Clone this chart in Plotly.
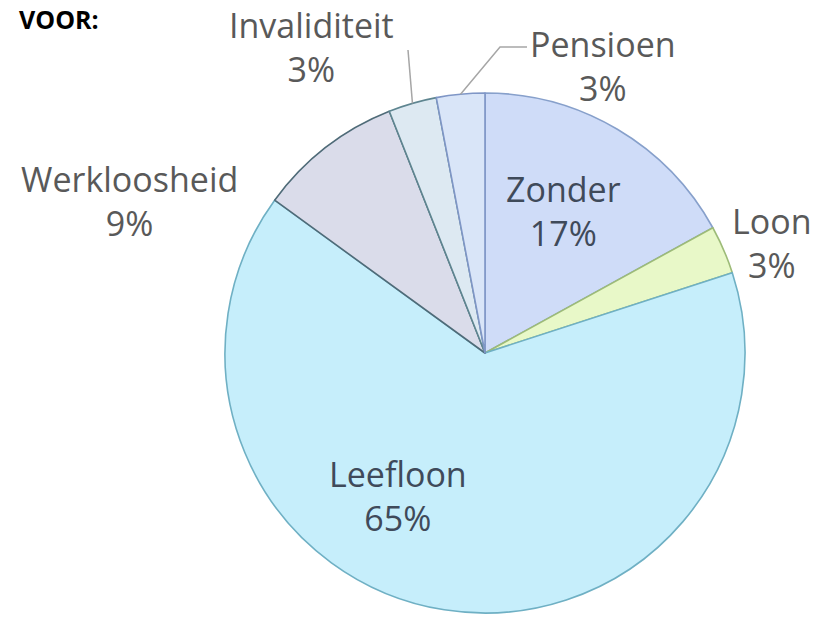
import math
import plotly.graph_objects as go

# ---- data ----
categories = ["Zonder", "Loon", "Leefloon", "Werkloosheid", "Invaliditeit", "Pensioen"]
values = [17, 3, 65, 9, 3, 3]
title_text = "VOOR:"

# ---- styles ----
fill_colors = ["#cfdcf8", "#e8f8c8", "#c6eefb", "#dadcea", "#dde9f2", "#d9e5f8"]
line_colors = ["#87a0cb", "#9dbb78", "#6fb0c4", "#4f6b78", "#5e8590", "#7f96c6"]

W, H = 814, 621
CX, CY, R = 485, 353, 260  # pie centre/radius in pixels

# label block centres (pixels) and styles
label_pos = {
    "Zonder": (563, 211),
    "Loon": (772, 243),
    "Leefloon": (398, 496),
    "Werkloosheid": (129, 201),
    "Invaliditeit": (311, 47),
    "Pensioen": (603, 66),
}
inside = {"Zonder", "Leefloon"}
leader_start = {
    "Invaliditeit": [(408, 50)],
    "Pensioen": [(527, 47), (500, 47)],
}


def px(x):
    return x / W


def py(y):
    return 1 - y / H


fig = go.Figure(
    go.Pie(
        labels=categories,
        values=values,
        sort=False,
        direction="clockwise",
        rotation=0,
        textinfo="none",
        hoverinfo="skip",
        marker=dict(colors=fill_colors, line=dict(color=line_colors, width=1.6)),
        domain=dict(x=[px(CX - R), px(CX + R)], y=[py(CY + R), py(CY - R)]),
    )
)

annotations = []
shapes = []
total = sum(values)
cum = 0.0
for cat, v in zip(categories, values):
    mid = (cum + v / 2) / total * 2 * math.pi
    cum += v
    pct = round(v / total * 100)
    lx, ly = label_pos[cat]
    color = "#3f4a5a" if cat in inside else "#595959"
    annotations.append(
        dict(
            x=px(lx), y=py(ly), xref="paper", yref="paper",
            text=f"{cat}<br>{pct}%", showarrow=False,
            xanchor="center", yanchor="middle", align="center",
            font=dict(family="Open Sans", size=34, color=color),
        )
    )
    if cat in leader_start:
        ex = CX + R * math.sin(mid)
        ey = CY - R * math.cos(mid)
        pts = leader_start[cat] + [(ex, ey)]
        path = "M " + " L ".join(f"{px(a):.5f},{py(b):.5f}" for a, b in pts)
        shapes.append(
            dict(type="path", path=path, xref="paper", yref="paper",
                 line=dict(color="#a6a6a6", width=1.5))
        )

annotations.append(
    dict(
        x=px(17), y=py(0), xref="paper", yref="paper", text=f"<b>{title_text}</b>",
        showarrow=False, xanchor="left", yanchor="top",
        font=dict(family="Open Sans", size=25, color="#000000"),
    )
)

fig.update_layout(
    width=W, height=H,
    margin=dict(l=0, r=0, t=0, b=0),
    paper_bgcolor="white", plot_bgcolor="white",
    showlegend=False,
    annotations=annotations,
    shapes=shapes,
)

fig.write_html(
    "out.html",
    config={"displayModeBar": False},
    post_script="document.body.style.margin='0';",
)
